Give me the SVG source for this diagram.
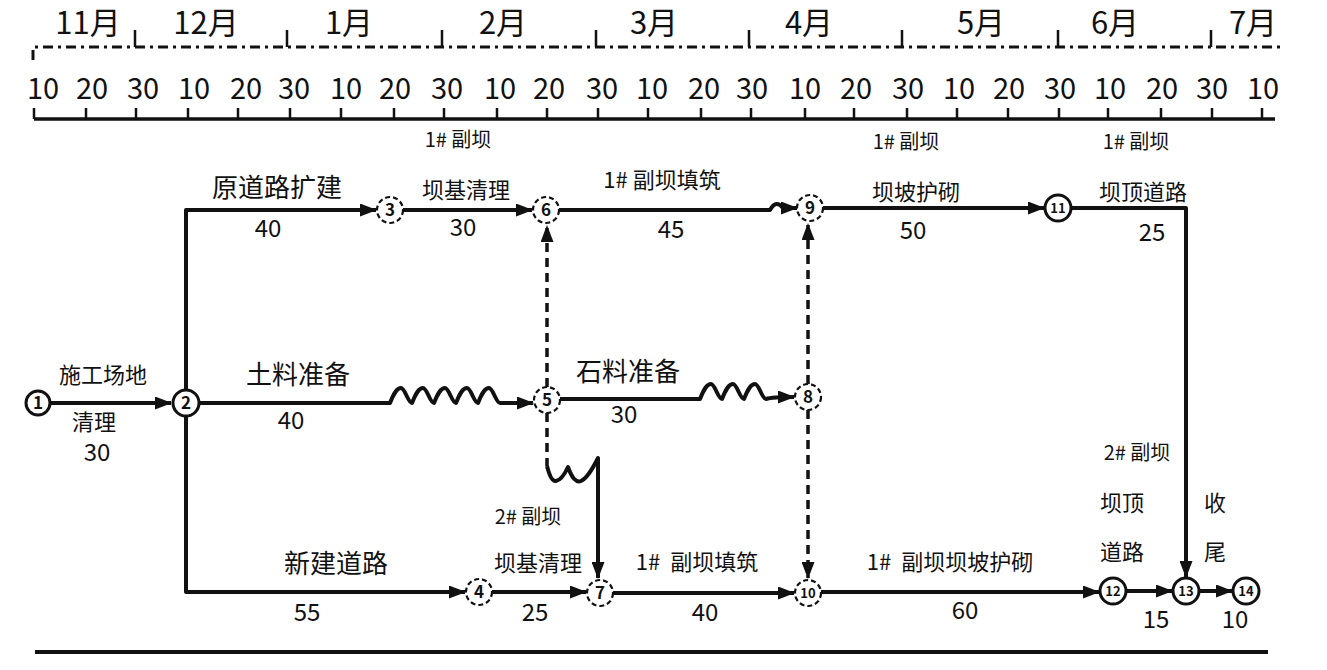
<svg xmlns="http://www.w3.org/2000/svg" width="1327" height="670" viewBox="0 0 1327 670">
<style>
text{font-family:"Noto Sans CJK SC","Noto Sans",sans-serif;fill:#111;text-anchor:middle;white-space:pre}
.mon{font-size:31px}
.num{font-size:29px}
.lb{font-size:22px}
.lb26{font-size:26px}
.lb20{font-size:20px}
.dn{font-size:24px}
.ln{fill:none;stroke:#111;stroke-width:4;stroke-linejoin:round}
.dl{fill:none;stroke:#111;stroke-width:3.5;stroke-dasharray:9 6}
.tk{fill:none;stroke:#111;stroke-width:2.5}
.nc{fill:#fff;stroke:#111;stroke-width:3}
.nd{fill:#fff;stroke:#111;stroke-width:2.2;stroke-dasharray:5 3}
.nt{font-size:17px;font-weight:bold}
.nt2{font-size:13px;font-weight:bold}
</style>
<defs>
<marker id="ah" markerUnits="userSpaceOnUse" markerWidth="17" markerHeight="13" refX="16" refY="6.5" orient="auto">
<path d="M0,0 L17,6.5 L0,13 z" fill="#111"/>
</marker>
</defs>

<g id="timeline">
<text class="mon" x="88" y="34">11月</text>
<text class="mon" x="206" y="34">12月</text>
<text class="mon" x="349" y="34">1月</text>
<text class="mon" x="503" y="34">2月</text>
<text class="mon" x="654" y="34">3月</text>
<text class="mon" x="809" y="34">4月</text>
<text class="mon" x="981" y="34">5月</text>
<text class="mon" x="1115" y="34">6月</text>
<text class="mon" x="1253" y="34">7月</text>
<path class="tk" d="M135,30 V47 M287,30 V47 M442,30 V47 M596,30 V47 M749,30 V47 M902,30 V47 M1058,30 V47 M1211,30 V47"/>
<path d="M33,60 V47 H1283" fill="none" stroke="#111" stroke-width="3" stroke-dasharray="10 5 3 5"/>
<g>
<text class="num" x="43" y="99">10</text>
<text class="num" x="92" y="99">20</text>
<text class="num" x="143" y="99">30</text>
<text class="num" x="194" y="99">10</text>
<text class="num" x="246" y="99">20</text>
<text class="num" x="294" y="99">30</text>
<text class="num" x="346" y="99">10</text>
<text class="num" x="395" y="99">20</text>
<text class="num" x="447" y="99">30</text>
<text class="num" x="500" y="99">10</text>
<text class="num" x="549" y="99">20</text>
<text class="num" x="602" y="99">30</text>
<text class="num" x="652" y="99">10</text>
<text class="num" x="704" y="99">20</text>
<text class="num" x="752" y="99">30</text>
<text class="num" x="805" y="99">10</text>
<text class="num" x="856" y="99">20</text>
<text class="num" x="908" y="99">30</text>
<text class="num" x="959" y="99">10</text>
<text class="num" x="1009" y="99">20</text>
<text class="num" x="1060" y="99">30</text>
<text class="num" x="1110" y="99">10</text>
<text class="num" x="1162" y="99">20</text>
<text class="num" x="1212" y="99">30</text>
<text class="num" x="1263" y="99">10</text>
</g>
<path d="M34,119 H1275" fill="none" stroke="#111" stroke-width="3.5"/>
<path class="tk" d="M34,108 V119 M86,108 V119 M136,108 V119 M188,108 V119 M238,108 V119 M290,108 V119 M341,108 V119 M394,108 V119 M444,108 V119 M497,108 V119 M547,108 V119 M598,108 V119 M648,108 V119 M701,108 V119 M751,108 V119 M805,108 V119 M854,108 V119 M907,108 V119 M957,108 V119 M1008,108 V119 M1059,108 V119 M1108,108 V119 M1161,108 V119 M1212,108 V119 M1262,108 V119"/>
</g>

<g id="connectors">
<path class="ln" d="M50,403 H171" marker-end="url(#ah)"/>
<path class="ln" d="M186,390 V210 H376" marker-end="url(#ah)"/>
<path class="ln" d="M403,210 H532" marker-end="url(#ah)"/>
<path class="ln" d="M559,210 H770 Q776,199 783,208 L797,208" marker-end="url(#ah)"/>
<path class="ln" d="M823,208 H1044" marker-end="url(#ah)"/>
<path class="ln" d="M1071,208 H1186 V577" marker-end="url(#ah)"/>
<path class="ln" d="M199,403 H390 c4,-10 7,-15 11,-15 c4,0 7,15 11,15 c4,-10 7,-15 11,-15 c4,0 7,15 11,15 c4,-10 7,-15 11,-15 c4,0 7,15 11,15 c4,-10 7,-15 11,-15 c4,0 7,15 11,15 c4,-10 7,-15 11,-15 c4,0 7,15 11,15 H533" marker-end="url(#ah)"/>
<path class="ln" d="M560,399 H700 c4,-10 7,-15 11,-15 c4,0 7,15 11,15 c4,-10 7,-15 11,-15 c4,0 7,15 11,15 c4,-10 7,-15 11,-15 c4,0 7,15 11,15 Q772,397 794,397" marker-end="url(#ah)"/>
<path class="dl" d="M547,387 V226" marker-end="url(#ah)"/>
<path class="dl" d="M547,413 V466"/>
<path class="ln" d="M547,466 Q551,482 556,481 Q562,480 568,467 Q574,484 581,481 Q588,478 598,458 V578" marker-end="url(#ah)"/>
<path class="dl" d="M808,384 V224" marker-end="url(#ah)"/>
<path class="dl" d="M808,410 V578" marker-end="url(#ah)"/>
<path class="ln" d="M186,416 V592 H465" marker-end="url(#ah)"/>
<path class="ln" d="M492,592 H586" marker-end="url(#ah)"/>
<path class="ln" d="M613,593 H794" marker-end="url(#ah)"/>
<path class="ln" d="M821,592 H1099" marker-end="url(#ah)"/>
<path class="ln" d="M1126,591 H1172" marker-end="url(#ah)"/>
<path class="ln" d="M1199,591 H1232" marker-end="url(#ah)"/>
<path d="M35,652 H1268" fill="none" stroke="#111" stroke-width="4"/>
</g>

<g id="labels">
<text class="lb" x="103" y="383">施工场地</text>
<text class="lb" x="94" y="430">清理</text>
<text class="dn" x="97" y="461">30</text>
<text class="lb26" x="277" y="197">原道路扩建</text>
<text class="dn" x="268" y="237">40</text>
<text class="lb20" x="458" y="147">1# 副坝</text>
<text class="lb" x="466" y="198">坝基清理</text>
<text class="dn" x="463" y="236">30</text>
<text class="lb" x="662" y="188">1# 副坝填筑</text>
<text class="dn" x="671" y="238">45</text>
<text class="lb20" x="906" y="149">1# 副坝</text>
<text class="lb" x="916" y="200">坝坡护砌</text>
<text class="dn" x="913" y="239">50</text>
<text class="lb20" x="1136" y="149">1# 副坝</text>
<text class="lb" x="1143" y="200">坝顶道路</text>
<text class="dn" x="1152" y="241">25</text>
<text class="lb26" x="298" y="384">土料准备</text>
<text class="dn" x="291" y="429">40</text>
<text class="lb26" x="628" y="381">石料准备</text>
<text class="dn" x="624" y="423">30</text>
<text class="lb20" x="528" y="524">2# 副坝</text>
<text class="lb" x="538" y="571">坝基清理</text>
<text class="dn" x="535" y="621">25</text>
<text class="lb26" x="336" y="573">新建道路</text>
<text class="dn" x="307" y="621">55</text>
<text class="lb" x="697" y="570">1#  副坝填筑</text>
<text class="dn" x="705" y="621">40</text>
<text class="lb" x="950" y="570">1#  副坝坝坡护砌</text>
<text class="dn" x="965" y="619">60</text>
<text class="lb20" x="1137" y="460">2# 副坝</text>
<text class="lb" x="1122" y="511">坝顶</text>
<text class="lb" x="1122" y="560">道路</text>
<text class="lb" x="1215" y="511">收</text>
<text class="lb" x="1215" y="560">尾</text>
<text class="dn" x="1156" y="628">15</text>
<text class="dn" x="1235" y="628">10</text>
</g>

<g id="n1"><circle class="nc" cx="38" cy="403" r="12"/><text class="nt" x="38" y="409">1</text></g>
<g id="n2"><circle class="nc" cx="186" cy="403" r="13"/><text class="nt" x="186" y="409">2</text></g>
<g id="n3"><circle class="nd" cx="390" cy="210" r="13"/><text class="nt" x="390" y="216">3</text></g>
<g id="n6"><circle class="nd" cx="546" cy="210" r="13"/><text class="nt" x="546" y="216">6</text></g>
<g id="n9"><circle class="nd" cx="810" cy="208" r="13"/><text class="nt" x="810" y="214">9</text></g>
<g id="n11"><circle class="nc" cx="1058" cy="208" r="13"/><text class="nt2" x="1058" y="213">11</text></g>
<g id="n5"><circle class="nd" cx="547" cy="400" r="13"/><text class="nt" x="547" y="406">5</text></g>
<g id="n8"><circle class="nd" cx="808" cy="397" r="13"/><text class="nt" x="808" y="403">8</text></g>
<g id="n4"><circle class="nd" cx="479" cy="592" r="13"/><text class="nt" x="479" y="598">4</text></g>
<g id="n7"><circle class="nd" cx="600" cy="593" r="13"/><text class="nt" x="600" y="599">7</text></g>
<g id="n10"><circle class="nd" cx="808" cy="593" r="13"/><text class="nt2" x="808" y="598">10</text></g>
<g id="n12"><circle class="nc" cx="1113" cy="591" r="13"/><text class="nt2" x="1113" y="596">12</text></g>
<g id="n13"><circle class="nc" cx="1186" cy="591" r="13"/><text class="nt2" x="1186" y="596">13</text></g>
<g id="n14"><circle class="nc" cx="1246" cy="591" r="13"/><text class="nt2" x="1246" y="596">14</text></g>
</svg>
